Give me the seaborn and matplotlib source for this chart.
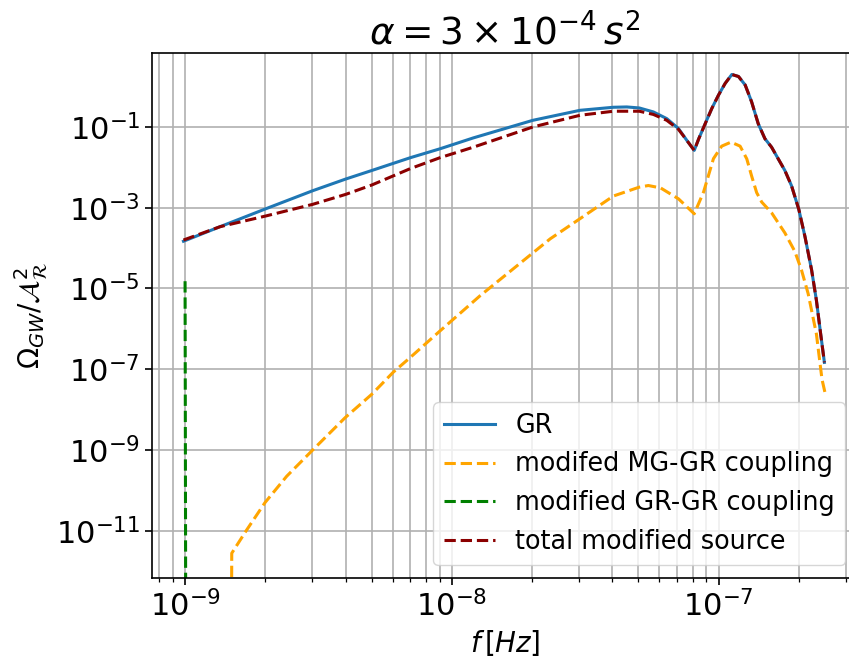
import matplotlib
matplotlib.use("Agg")
import matplotlib.pyplot as plt
import matplotlib.ticker as mticker
import numpy as np
import seaborn as sns

# values (log10 of f in Hz, log10 of Omega_GW / A_R^2)
BELOW = -40.0  # points that sit far below the visible range

gr_logf = [-9.006, -8.869, -8.699, -8.522, -8.398, -8.301, -8.155, -8.044, -7.919,
           -7.696, -7.519, -7.394, -7.344, -7.297, -7.244, -7.194, -7.150, -7.119,
           -7.091, -7.074, -7.050, -7.025, -7.0, -6.975, -6.950, -6.925, -6.900,
           -6.876, -6.851, -6.826, -6.801, -6.776, -6.751, -6.726, -6.699, -6.676,
           -6.651, -6.633, -6.617, -6.603]
gr_logy = [-3.83, -3.47, -3.03, -2.58, -2.29, -2.08, -1.76, -1.54, -1.27,
           -0.835, -0.587, -0.512, -0.504, -0.529, -0.628, -0.793, -1.04, -1.33,
           -1.58, -1.29, -0.92, -0.54, -0.21, 0.08, 0.30, 0.25, 0.04,
           -0.375, -0.92, -1.29, -1.50, -1.79, -2.08, -2.46, -3.04, -3.71,
           -4.54, -5.29, -6.125, -6.83]

total_logf = [-9.006, -8.869, -8.699, -8.522, -8.398, -8.301, -8.155, -8.044, -7.919,
              -7.696, -7.519, -7.394, -7.297, -7.244, -7.194, -7.150, -7.119,
              -7.091, -7.074, -7.050, -7.025, -7.0, -6.975, -6.950, -6.925, -6.900,
              -6.876, -6.851, -6.826, -6.801, -6.776, -6.751, -6.726, -6.699, -6.676,
              -6.651, -6.633, -6.617, -6.603]
total_logy = [-3.80, -3.47, -3.207, -2.917, -2.67, -2.44, -2.03, -1.76, -1.50,
              -1.0, -0.71, -0.61, -0.61, -0.69, -0.835, -1.06, -1.33,
              -1.58, -1.29, -0.92, -0.54, -0.21, 0.08, 0.30, 0.25, 0.04,
              -0.375, -0.92, -1.29, -1.50, -1.79, -2.08, -2.46, -3.04, -3.71,
              -4.54, -5.29, -6.125, -6.83]

mg_logf = [-8.84, -8.825, -8.769, -8.700, -8.619, -8.523, -8.400, -8.300, -8.219,
           -8.156, -8.044, -7.894, -7.631, -7.519, -7.394, -7.297, -7.263, -7.217,
           -7.150, -7.091, -7.056, -7.019, -6.988, -6.953, -6.919, -6.894, -6.876,
           -6.857, -6.838, -6.801, -6.751, -6.714, -6.689, -6.664, -6.633, -6.612,
           -6.600]
mg_logy = [BELOW, -11.556, -10.98, -10.30, -9.65, -9.01, -8.20, -7.62, -7.07,
           -6.71, -6.05, -5.18, -3.77, -3.27, -2.71, -2.49, -2.45, -2.51,
           -2.78, -3.15, -2.61, -1.785, -1.475, -1.375, -1.475, -1.79, -2.21,
           -2.625, -2.86, -3.125, -3.625, -4.08, -4.54, -5.125, -6.125, -7.25,
           -7.6]

gg_logf = [-9.0, -8.99]
gg_logy = [-4.82, BELOW]

x_ticks = [1e-9, 1e-8, 1e-7]
y_ticks = [1e-11, 1e-9, 1e-7, 1e-5, 1e-3, 1e-1]

series = [
    ("GR", gr_logf, gr_logy, "#1f77b4", "-"),
    ("modifed MG-GR coupling", mg_logf, mg_logy, "orange", "--"),
    ("modified GR-GR coupling", gg_logf, gg_logy, "green", "--"),
    ("total modified source", total_logf, total_logy, "darkred", "--"),
]

fig = plt.figure(figsize=(8.49, 6.57), dpi=100)
ax = fig.add_axes([152 / 849, 79 / 657, (858 - 152) / 849, 525 / 657])

for label, lf, ly, color, ls in series:
    sns.lineplot(x=10.0 ** np.array(lf), y=10.0 ** np.array(ly), ax=ax,
                 label=label, color=color, linestyle=ls, linewidth=2.2,
                 estimator=None, sort=False)

ax.set_xscale("log")
ax.set_yscale("log")
ax.set_xlim(10 ** -9.124, 10 ** -6.477)
ax.set_ylim(10 ** -12.17, 10 ** 0.832)

ax.xaxis.set_major_locator(mticker.FixedLocator(x_ticks))
ax.xaxis.set_major_formatter(mticker.LogFormatterSciNotation())
ax.xaxis.set_minor_locator(mticker.LogLocator(base=10, subs=np.arange(2, 10)))
ax.xaxis.set_minor_formatter(mticker.NullFormatter())
ax.yaxis.set_major_locator(mticker.FixedLocator(y_ticks))
ax.yaxis.set_major_formatter(mticker.LogFormatterSciNotation())
ax.yaxis.set_minor_locator(mticker.NullLocator())

ax.grid(True, which="both", color="#b0b0b0", linewidth=1.2)
ax.set_axisbelow(True)
for s in ax.spines.values():
    s.set_linewidth(1.2)
ax.tick_params(which="major", labelsize=22, length=5, width=1.2)
ax.tick_params(which="minor", length=3, width=0.9)

ax.set_title(r"$\alpha = 3 \times 10^{-4}\, s^2$", fontsize=27)
ax.set_xlabel(r"$f\,[Hz]$", fontsize=20)
ax.set_ylabel(r"$\Omega_{GW}/\mathcal{A}_\mathcal{R}^2$", fontsize=20)

ax.legend(loc="lower right", fontsize=18.4)

fig.savefig("out.png", dpi=100)
